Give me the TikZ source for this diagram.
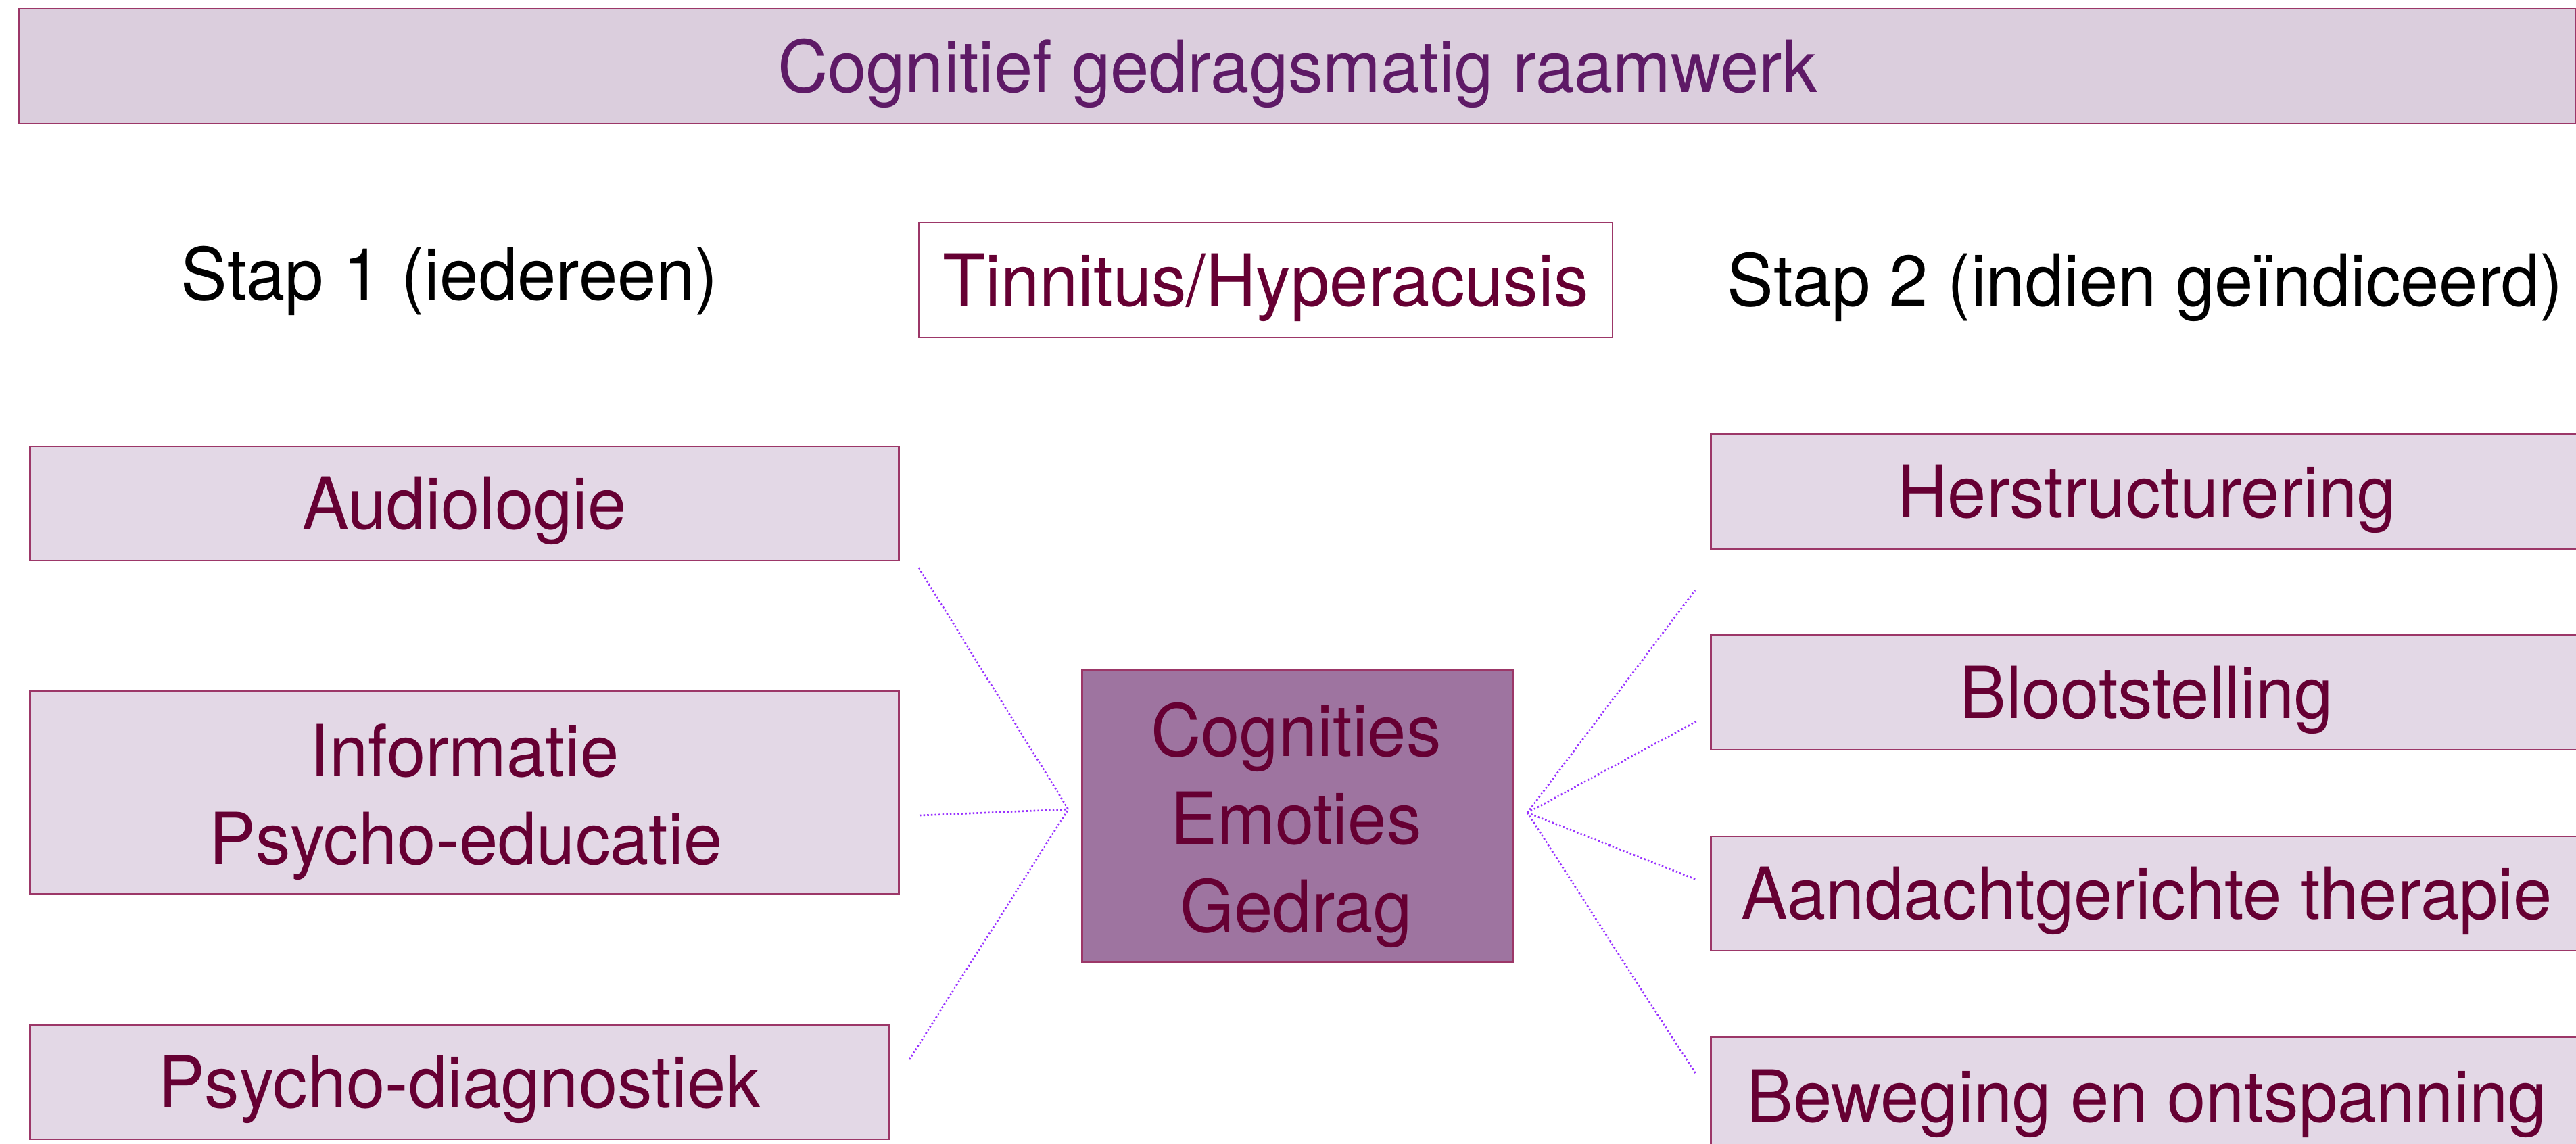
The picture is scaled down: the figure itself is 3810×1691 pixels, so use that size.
\documentclass[tikz,border=0pt]{standalone}
\usepackage{fontspec}
\setmainfont{TeX Gyre Heros}[FakeStretch=0.97]
\definecolor{edgecol}{HTML}{9C3768}
\definecolor{topfill}{HTML}{DBCEDD}
\definecolor{boxfill}{HTML}{E3D8E6}
\definecolor{midfill}{HTML}{9E74A0}
\definecolor{maroontxt}{HTML}{660033}
\definecolor{titlecol}{HTML}{5E1A66}
\definecolor{linkcol}{HTML}{9933FF}
\newcommand\figfont{\fontsize{30.2}{37}\selectfont}
\tikzset{
  boxbase/.style={draw=edgecol, line width=0.8pt, rectangle, inner sep=0pt,
    font=\figfont, text=maroontxt},
  onebox/.style={boxbase, fill=boxfill, text height=21.7pt, text depth=0pt},
  emptybox/.style={boxbase, fill=boxfill},
  lbl/.style={font=\figfont, text=maroontxt, anchor=base, inner sep=0pt},
  plain/.style={font=\figfont, text=black, anchor=base, inner sep=0pt},
  link/.style={draw=linkcol, line width=0.75pt, dash pattern=on 0.7pt off 0.9pt},
}
\begin{document}
\begin{tikzpicture}[x=0.01cm, y=-0.01cm]
\useasboundingbox (0,0) rectangle (3810,1691);
% title
\node[boxbase, fill=topfill, text=titlecol, text height=21.7pt, text depth=0pt,
  minimum width=37.78cm, minimum height=1.70cm] (title) at (1919,98)
  {Cognitief gedragsmatig raamwerk};
% step labels
\node[plain] (stap1) at (665,443) {Stap 1 (iedereen)};
\node[plain] (stap2) at (3173,452) {Stap 2 (indien geïndiceerd)};
% tinnitus
\node[boxbase, fill=white, line width=0.6pt, text height=21.7pt, text depth=0pt,
  minimum width=10.26cm, minimum height=1.70cm] (tinn) at (1872,414)
  {Tinnitus/Hyperacusis};
% central
\node[boxbase, fill=midfill, minimum width=6.37cm, minimum height=4.31cm] (mid) at (1919.5,1206.5) {};
\node[lbl] (mid1) at (1917,1118) {Cognities};
\node[lbl] (mid2) at (1917,1248) {Emoties};
\node[lbl] (mid3) at (1917,1378) {Gedrag};
% left column
\node[onebox, minimum width=12.84cm, minimum height=1.69cm] (audio) at (687,744.5) {Audiologie};
\node[emptybox, minimum width=12.84cm, minimum height=3.00cm] (info) at (687,1172) {};
\node[lbl] (info1) at (687,1148) {Informatie};
\node[lbl] (info2) at (689,1278) {Psycho-educatie};
\node[onebox, minimum width=12.69cm, minimum height=1.69cm] (psycho) at (679.5,1600.5) {Psycho-diagnostiek};
% right column
\node[onebox, minimum width=12.88cm, minimum height=1.70cm] (her) at (3175,727) {Herstructurering};
\node[onebox, minimum width=12.88cm, minimum height=1.70cm] (bloot) at (3175,1024) {Blootstelling};
\node[onebox, minimum width=12.88cm, minimum height=1.69cm] (aand) at (3175,1321.5) {Aandachtgerichte therapie};
\node[onebox, minimum width=12.88cm, minimum height=1.74cm] (bew) at (3175,1621) {Beweging en ontspanning};
% connector end points
\coordinate (hubL) at (1580,1197);
\coordinate (hubR) at (2259,1202);
\coordinate (audioE) at (1359,840);
\coordinate (infoE) at (1360,1206);
\coordinate (psychoE) at (1345,1567);
\coordinate (herE) at (2507,873);
\coordinate (blootE) at (2509,1067);
\coordinate (aandE) at (2509,1301);
\coordinate (bewE) at (2508,1588);
\draw[link] (audioE) -- (hubL);
\draw[link] (infoE) -- (hubL);
\draw[link] (psychoE) -- (hubL);
\draw[link] (hubR) -- (herE);
\draw[link] (hubR) -- (blootE);
\draw[link] (hubR) -- (aandE);
\draw[link] (hubR) -- (bewE);
\end{tikzpicture}
\end{document}
